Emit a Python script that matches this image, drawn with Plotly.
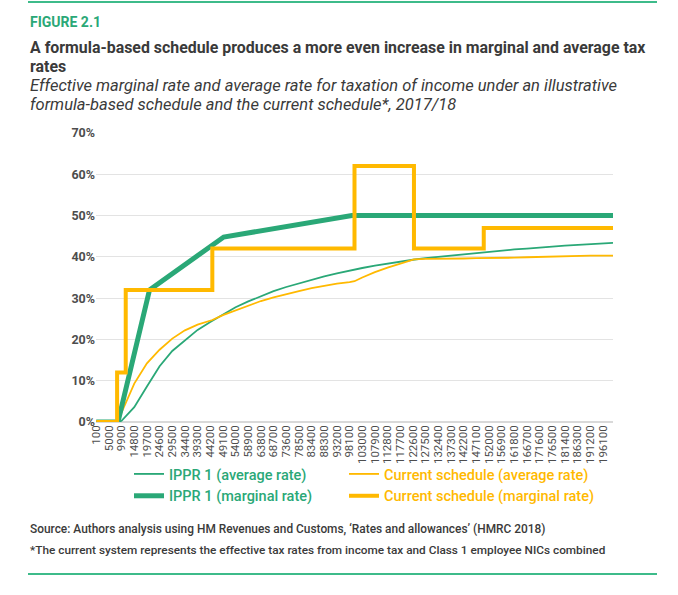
import plotly.graph_objects as go

# ---------------- data ----------------
tick_vals = [100, 5000, 9900, 14800, 19700, 24600, 29500, 34400, 39300, 44200, 49100,
             54000, 58900, 63800, 68700, 73600, 78500, 83400, 88300, 93200, 98100,
             103000, 107900, 112800, 117700, 122600, 127500, 132400, 137300, 142200, 147100,
             152000, 156900, 161800, 166700, 171600, 176500, 181400, 186300, 191200, 196100]
tick_text = [str(v) for v in tick_vals]

ippr_avg_x = [100, 5000, 8500, 9900, 14800, 19700, 24600, 29500, 34400, 39300, 44200, 49100,
              54000, 58900, 63800, 68700, 73600, 78500, 83400, 88300, 93200, 98100,
              103000, 107900, 112800, 117700, 122600, 127500, 132400, 137300, 142200, 147100,
              152000, 156900, 161800, 166700, 171600, 176500, 181400, 186300, 191200, 196100, 200000]
ippr_avg_y = [0, 0, 0, 0.3, 3.6, 8.6, 13.5, 17.2, 19.8, 22.3, 24.2, 26.0,
              27.8, 29.2, 30.5, 31.7, 32.7, 33.6, 34.5, 35.3, 36.0, 36.7,
              37.3, 37.9, 38.4, 38.9, 39.3, 39.7, 40.0, 40.4, 40.7, 40.9,
              41.2, 41.5, 41.8, 42.0, 42.3, 42.5, 42.7, 42.9, 43.1, 43.3, 43.4]

cur_avg_x = [100, 5000, 8164, 9900, 11500, 14800, 19700, 24600, 29500, 34400, 39300, 44200, 45000,
             49100, 54000, 58900, 63800, 68700, 73600, 78500, 83400, 88300, 93200, 98100, 100000,
             103000, 107900, 112800, 117700, 122600, 123000, 127500, 132400, 137300, 142200, 147100,
             152000, 156900, 161800, 166700, 171600, 176500, 181400, 186300, 191200, 196100, 200000]
cur_avg_y = [0, 0, 0, 2.3, 4.5, 9.3, 14.2, 17.5, 20.2, 22.2, 23.6, 24.5, 24.7,
             25.9, 27.0, 28.2, 29.3, 30.2, 31.0, 31.7, 32.4, 33.0, 33.5, 33.9, 34.1,
             35.0, 36.3, 37.4, 38.4, 39.3, 39.4, 39.5, 39.5, 39.6, 39.6, 39.7,
             39.7, 39.8, 39.8, 39.9, 40.0, 40.0, 40.1, 40.2, 40.3, 40.3, 40.3]

ippr_marg_x = [100, 8500, 20700, 49400, 99000, 200000]
ippr_marg_y = [0, 0, 32, 44.8, 50, 50]

cur_marg_x = [100, 8164, 11500, 45000, 100000, 123000, 150000, 200000]
cur_marg_y = [0, 12, 32, 42, 62, 42, 47, 47]

# ---------------- style ----------------
GREEN = "#2aa877"
YELLOW = "#ffb900"
DARK = "#3a3a3a"
GREY = "#4d4d4d"
FONT = "Roboto"

W, H = 678, 595
L, R, T, B = 96, 65, 133, 173
PW, PH = W - L - R, H - T - B


def xp(px):
    return (px - L) / PW


def yp(py):
    return (H - B - py) / PH


fig = go.Figure()
fig.add_trace(go.Scatter(x=ippr_avg_x, y=ippr_avg_y, mode="lines", legend="legend",
                         line=dict(color=GREEN, width=1.8),
                         name=f"<span style='color:{GREEN}'>IPPR 1 (average rate)</span>"))
fig.add_trace(go.Scatter(x=cur_avg_x, y=cur_avg_y, mode="lines", legend="legend2",
                         line=dict(color=YELLOW, width=1.8),
                         name=f"<span style='color:{YELLOW}'>Current schedule (average rate)</span>"))
fig.add_trace(go.Scatter(x=ippr_marg_x, y=ippr_marg_y, mode="lines", legend="legend",
                         line=dict(color=GREEN, width=5),
                         name=f"<span style='color:{GREEN}'>IPPR 1 (marginal rate)</span>"))
fig.add_trace(go.Scatter(x=cur_marg_x, y=cur_marg_y, mode="lines", legend="legend2",
                         line=dict(color=YELLOW, width=4, shape="hv"),
                         name=f"<span style='color:{YELLOW}'>Current schedule (marginal rate)</span>"))

legend_common = dict(orientation="v", xanchor="left", yanchor="top", itemwidth=30,
                     font=dict(family=FONT, size=14.5, weight=500), traceorder="normal",
                     tracegroupgap=0, bgcolor="rgba(0,0,0,0)")

fig.update_layout(
    width=W, height=H,
    margin=dict(l=L, r=R, t=T, b=B, autoexpand=False),
    paper_bgcolor="white", plot_bgcolor="white",
    font=dict(family=FONT, color=GREY, size=11),
    showlegend=True,
    legend=dict(x=xp(129), y=yp(458), **legend_common),
    legend2=dict(x=xp(344), y=yp(458), **legend_common),
    xaxis=dict(range=[0, 200000], tickmode="array", tickvals=tick_vals, ticktext=tick_text,
               tickangle=-90, showgrid=False, zeroline=False, showline=False,
               tickfont=dict(family=FONT, size=11.5, color=GREY), ticks=""),
    yaxis=dict(range=[0, 70], dtick=10, ticksuffix="%", showgrid=True, gridcolor="#e3e3e3",
               gridwidth=1, zeroline=True, zerolinecolor="#d9d9d9", zerolinewidth=1.5,
               showline=False, tickfont=dict(family=FONT, size=12.5, color=GREY, weight=700),
               ticks=""),
)

ann = [
    dict(text="FIGURE 2.1", px=28, py=22, size=14, color=GREEN, weight=700, style="normal"),
    dict(text="A formula-based schedule produces a more even increase in marginal and average tax",
         px=28, py=47, size=15.9, color=DARK, weight=700, style="normal"),
    dict(text="rates", px=28, py=66, size=15.9, color=DARK, weight=700, style="normal"),
    dict(text="Effective marginal rate and average rate for taxation of income under an illustrative",
         px=28, py=86, size=16.5, color=DARK, weight=400, style="italic"),
    dict(text="formula-based schedule and the current schedule*, 2017/18",
         px=28, py=104, size=16.5, color=DARK, weight=400, style="italic"),
    dict(text="Source: Authors analysis using HM Revenues and Customs, \u2018Rates and allowances\u2019 (HMRC 2018)",
         px=28, py=529, size=11.9, color=DARK, weight=500, style="normal"),
    dict(text="*The current system represents the effective tax rates from income tax and Class 1 employee NICs combined",
         px=28, py=550, size=11.8, color=DARK, weight=500, style="normal"),
]
for a in ann:
    fig.add_annotation(text=a["text"], xref="paper", yref="paper", x=xp(a["px"]), y=yp(a["py"]),
                       xanchor="left", yanchor="middle", showarrow=False,
                       font=dict(family=FONT, size=a["size"], color=a["color"],
                                 weight=a["weight"], style=a["style"]))

for py in (2, 574):
    fig.add_shape(type="line", xref="paper", yref="paper", x0=xp(28), x1=xp(657),
                  y0=yp(py), y1=yp(py), line=dict(color="#3dbb8a", width=2))

fig.write_html("out.html", config={"displayModeBar": False},
               post_script="document.body.style.margin='0';")
